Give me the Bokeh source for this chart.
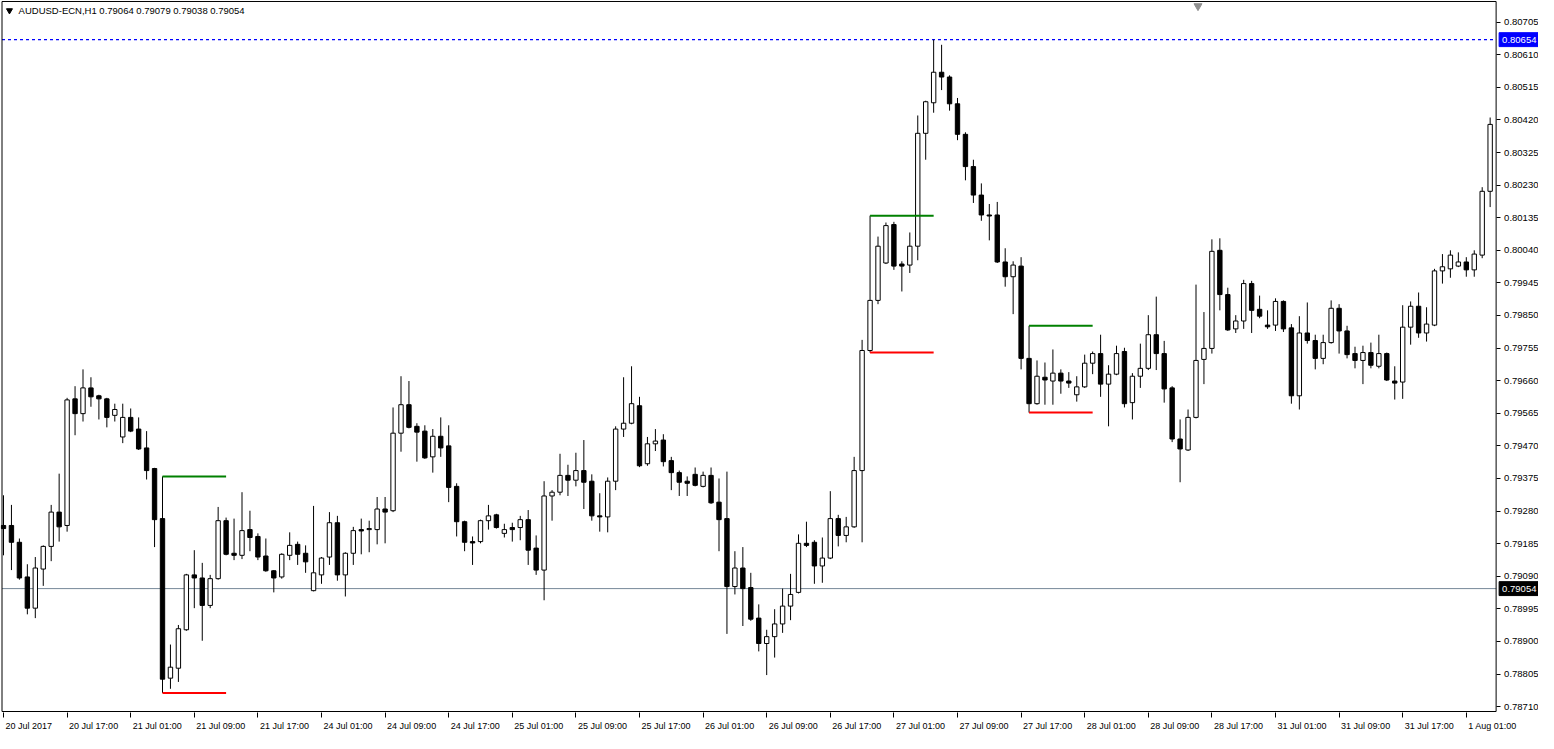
from bokeh.plotting import figure
from bokeh.models import ColumnDataSource, FixedTicker, Label, Range1d, PrintfTickFormatter
from bokeh.core.properties import value
from bokeh.embed import file_html
from bokeh.resources import INLINE

# ---------------- data ----------------
title_text = "AUDUSD-ECN,H1  0.79064 0.79079 0.79038 0.79054"

opens = [0.79238, 0.79238, 0.79189, 0.79088, 0.78997, 0.79111, 0.79177, 0.79277, 0.79238, 0.79607,
         0.79564, 0.79639, 0.79616, 0.79607, 0.79559, 0.79496, 0.79553, 0.79519, 0.79464, 0.79404,
         0.79258, 0.78793, 0.78822, 0.78934, 0.79094, 0.79085, 0.79005, 0.79083, 0.79252, 0.79157,
         0.79151, 0.79226, 0.79206, 0.79149, 0.79106, 0.79088, 0.79151, 0.79183, 0.79157, 0.79048,
         0.79094, 0.79146, 0.79246, 0.79094, 0.79157, 0.79226, 0.79226, 0.79226, 0.79286, 0.79281,
         0.79507, 0.79590, 0.79527, 0.79513, 0.79438, 0.79498, 0.79470, 0.79352, 0.79249, 0.79191,
         0.79191, 0.79252, 0.79269, 0.79215, 0.79232, 0.79232, 0.79255, 0.79172, 0.79108, 0.79324,
         0.79335, 0.79384, 0.79370, 0.79398, 0.79367, 0.79266, 0.79263, 0.79367, 0.79519, 0.79536,
         0.79587, 0.79418, 0.79476, 0.79487, 0.79427, 0.79392, 0.79367, 0.79387, 0.79352, 0.79384,
         0.79306, 0.79258, 0.79060, 0.79114, 0.79057, 0.78968, 0.78894, 0.78914, 0.78951, 0.79003,
         0.79043, 0.79186, 0.79189, 0.79120, 0.79143, 0.79258, 0.79209, 0.79234, 0.79398, 0.79748,
         0.79894, 0.80003, 0.80115, 0.80000, 0.79997, 0.80052, 0.80381, 0.80470, 0.80559, 0.80545,
         0.80467, 0.80378, 0.80284, 0.80201, 0.80143, 0.80143, 0.80006, 0.79963, 0.79994, 0.79725,
         0.79593, 0.79670, 0.79659, 0.79682, 0.79659, 0.79619, 0.79642, 0.79711, 0.79739, 0.79650,
         0.79679, 0.79745, 0.79596, 0.79673, 0.79696, 0.79794, 0.79739, 0.79639, 0.79490, 0.79458,
         0.79553, 0.79722, 0.79754, 0.80040, 0.79911, 0.79811, 0.79834, 0.79943, 0.79868, 0.79822,
         0.79822, 0.79891, 0.79814, 0.79616, 0.79799, 0.79777, 0.79725, 0.79771, 0.79871, 0.79805,
         0.79739, 0.79719, 0.79742, 0.79702, 0.79739, 0.79659, 0.79656, 0.79816, 0.79877, 0.79799,
         0.79822, 0.79980, 0.79986, 0.79994, 0.80006, 0.79983, 0.80026, 0.80212]

highs = [0.79326, 0.79298, 0.79200, 0.79125, 0.79146, 0.79180, 0.79298, 0.79389, 0.79610, 0.79644,
         0.79693, 0.79670, 0.79619, 0.79610, 0.79593, 0.79593, 0.79579, 0.79553, 0.79513, 0.79406,
         0.79381, 0.78891, 0.78948, 0.79097, 0.79166, 0.79129, 0.79094, 0.79292, 0.79261, 0.79258,
         0.79335, 0.79281, 0.79215, 0.79200, 0.79108, 0.79157, 0.79218, 0.79191, 0.79180, 0.79295,
         0.79146, 0.79277, 0.79266, 0.79160, 0.79234, 0.79258, 0.79252, 0.79321, 0.79321, 0.79582,
         0.79673, 0.79659, 0.79536, 0.79530, 0.79519, 0.79553, 0.79530, 0.79361, 0.79252, 0.79206,
         0.79255, 0.79298, 0.79272, 0.79243, 0.79246, 0.79266, 0.79283, 0.79209, 0.79367, 0.79341,
         0.79447, 0.79415, 0.79450, 0.79487, 0.79387, 0.79332, 0.79378, 0.79527, 0.79670, 0.79702,
         0.79613, 0.79496, 0.79519, 0.79504, 0.79438, 0.79398, 0.79381, 0.79407, 0.79395, 0.79407,
         0.79375, 0.79395, 0.79163, 0.79175, 0.79100, 0.79008, 0.78934, 0.78994, 0.79054, 0.79097,
         0.79212, 0.79249, 0.79195, 0.79203, 0.79338, 0.79269, 0.79263, 0.79438, 0.79779, 0.80141,
         0.80080, 0.80121, 0.80123, 0.80008, 0.80092, 0.80433, 0.80476, 0.80654, 0.80639, 0.80550,
         0.80484, 0.80384, 0.80304, 0.80235, 0.80175, 0.80181, 0.80046, 0.80008, 0.80020, 0.79820,
         0.79719, 0.79713, 0.79751, 0.79693, 0.79685, 0.79673, 0.79736, 0.79745, 0.79794, 0.79705,
         0.79762, 0.79756, 0.79682, 0.79768, 0.79851, 0.79905, 0.79776, 0.79644, 0.79547, 0.79576,
         0.79940, 0.79860, 0.80072, 0.80075, 0.79931, 0.79851, 0.79954, 0.79951, 0.79908, 0.79865,
         0.79900, 0.79894, 0.79825, 0.79848, 0.79888, 0.79794, 0.79794, 0.79894, 0.79883, 0.79820,
         0.79759, 0.79762, 0.79771, 0.79794, 0.79742, 0.79702, 0.79880, 0.79891, 0.79917, 0.79874,
         0.79986, 0.80029, 0.80040, 0.80034, 0.80020, 0.80040, 0.80224, 0.80427]

lows = [0.79151, 0.79108, 0.79080, 0.78979, 0.78968, 0.79062, 0.79134, 0.79191, 0.79220, 0.79501,
        0.79541, 0.79584, 0.79547, 0.79524, 0.79541, 0.79478, 0.79510, 0.79458, 0.79372, 0.79175,
        0.78750, 0.78762, 0.78782, 0.78931, 0.78997, 0.78902, 0.78997, 0.79080, 0.79151, 0.79137,
        0.79140, 0.79163, 0.79137, 0.79103, 0.79043, 0.79083, 0.79137, 0.79123, 0.79100, 0.79046,
        0.79068, 0.79123, 0.79077, 0.79031, 0.79123, 0.79154, 0.79160, 0.79183, 0.79186, 0.79277,
        0.79453, 0.79521, 0.79424, 0.79432, 0.79392, 0.79438, 0.79306, 0.79206, 0.79163, 0.79123,
        0.79186, 0.79226, 0.79229, 0.79203, 0.79191, 0.79195, 0.79123, 0.79094, 0.79020, 0.79252,
        0.79326, 0.79324, 0.79352, 0.79286, 0.79252, 0.79220, 0.79218, 0.79341, 0.79496, 0.79533,
        0.79408, 0.79412, 0.79455, 0.79410, 0.79341, 0.79324, 0.79324, 0.79352, 0.79349, 0.79301,
        0.79163, 0.78922, 0.79037, 0.78945, 0.78960, 0.78871, 0.78802, 0.78853, 0.78925, 0.78962,
        0.79040, 0.79175, 0.79068, 0.79071, 0.79140, 0.79177, 0.79189, 0.79231, 0.79189, 0.79742,
        0.79883, 0.80000, 0.79983, 0.79920, 0.79974, 0.80011, 0.80304, 0.80441, 0.80507, 0.80447,
        0.80361, 0.80244, 0.80178, 0.80126, 0.80069, 0.80003, 0.79934, 0.79854, 0.79693, 0.79567,
        0.79590, 0.79590, 0.79590, 0.79622, 0.79639, 0.79599, 0.79639, 0.79679, 0.79613, 0.79527,
        0.79676, 0.79582, 0.79547, 0.79639, 0.79691, 0.79691, 0.79596, 0.79481, 0.79364, 0.79455,
        0.79550, 0.79650, 0.79739, 0.79865, 0.79805, 0.79799, 0.79811, 0.79799, 0.79842, 0.79811,
        0.79805, 0.79802, 0.79593, 0.79576, 0.79768, 0.79693, 0.79708, 0.79768, 0.79739, 0.79725,
        0.79696, 0.79650, 0.79696, 0.79696, 0.79659, 0.79605, 0.79607, 0.79765, 0.79785, 0.79774,
        0.79819, 0.79943, 0.79960, 0.79991, 0.79963, 0.79963, 0.80017, 0.80166]

closes = [0.79229, 0.79189, 0.79085, 0.78997, 0.79114, 0.79177, 0.79277, 0.79234, 0.79604, 0.79564,
          0.79639, 0.79613, 0.79607, 0.79553, 0.79576, 0.79553, 0.79513, 0.79461, 0.79398, 0.79255,
          0.78790, 0.78825, 0.78937, 0.79094, 0.79085, 0.79005, 0.79083, 0.79252, 0.79154, 0.79151,
          0.79223, 0.79203, 0.79146, 0.79106, 0.79085, 0.79154, 0.79180, 0.79154, 0.79132, 0.79100,
          0.79143, 0.79246, 0.79094, 0.79157, 0.79223, 0.79222, 0.79229, 0.79286, 0.79277, 0.79507,
          0.79590, 0.79524, 0.79510, 0.79435, 0.79498, 0.79464, 0.79349, 0.79249, 0.79189, 0.79187,
          0.79252, 0.79266, 0.79232, 0.79226, 0.79226, 0.79255, 0.79166, 0.79108, 0.79324, 0.79335,
          0.79384, 0.79370, 0.79398, 0.79364, 0.79266, 0.79263, 0.79367, 0.79519, 0.79536, 0.79593,
          0.79412, 0.79476, 0.79484, 0.79424, 0.79392, 0.79364, 0.79361, 0.79355, 0.79384, 0.79304,
          0.79255, 0.79060, 0.79114, 0.79054, 0.78965, 0.78894, 0.78914, 0.78951, 0.79003, 0.79037,
          0.79186, 0.79180, 0.79120, 0.79143, 0.79258, 0.79209, 0.79234, 0.79398, 0.79748, 0.79894,
          0.80052, 0.80112, 0.79994, 0.79994, 0.80052, 0.80381, 0.80473, 0.80559, 0.80545, 0.80467,
          0.80378, 0.80284, 0.80201, 0.80143, 0.80140, 0.80006, 0.79963, 0.79997, 0.79725, 0.79593,
          0.79673, 0.79662, 0.79682, 0.79659, 0.79653, 0.79642, 0.79711, 0.79739, 0.79650, 0.79679,
          0.79739, 0.79593, 0.79673, 0.79696, 0.79794, 0.79739, 0.79636, 0.79490, 0.79461, 0.79553,
          0.79719, 0.79754, 0.80037, 0.79911, 0.79808, 0.79834, 0.79943, 0.79865, 0.79848, 0.79817,
          0.79891, 0.79811, 0.79616, 0.79799, 0.79777, 0.79725, 0.79771, 0.79871, 0.79805, 0.79736,
          0.79719, 0.79742, 0.79705, 0.79739, 0.79662, 0.79653, 0.79816, 0.79877, 0.79799, 0.79825,
          0.79980, 0.79992, 0.80026, 0.80006, 0.79983, 0.80029, 0.80212, 0.80407]

time_labels = ["20 Jul 2017", "20 Jul 17:00", "21 Jul 01:00", "21 Jul 09:00", "21 Jul 17:00",
               "24 Jul 01:00", "24 Jul 09:00", "24 Jul 17:00", "25 Jul 01:00", "25 Jul 09:00",
               "25 Jul 17:00", "26 Jul 01:00", "26 Jul 09:00", "26 Jul 17:00", "27 Jul 01:00",
               "27 Jul 09:00", "27 Jul 17:00", "28 Jul 01:00", "28 Jul 09:00", "28 Jul 17:00",
               "31 Jul 01:00", "31 Jul 09:00", "31 Jul 17:00", "1 Aug 01:00"]

price_ticks = [0.78710, 0.78805, 0.78900, 0.78995, 0.79090, 0.79185, 0.79280, 0.79375, 0.79470,
               0.79565, 0.79660, 0.79755, 0.79850, 0.79945, 0.80040, 0.80135, 0.80230, 0.80325,
               0.80420, 0.80515, 0.80610, 0.80705]

high_line_price = 0.80654
bid_price = 0.79054

# news-bar ranges (bar index where the range starts; its high/low are drawn forward)
range_start = [20, 109, 129]
range_bars = 8

# visible price window of the chart box
price_lo, price_hi = 0.786958, 0.807652

# ---------------- geometry ----------------
n = len(opens)
bars = list(range(n))
tick_bars = bars[::8][:len(time_labels)]

W, H = 1538, 733
BOTTOM = 17
PX = 7.95                       # pixels per bar
FRAME_H = H - BOTTOM
X0 = -3 / PX                    # frame left edge (data)
X1 = X0 + W / PX                # frame right edge (data)
box_left = -1.5 / PX            # chart box left edge
box_right = 187.75              # chart box right edge (price scale starts here)
ppx = (price_hi - price_lo) / (FRAME_H - 2)
Y0, Y1 = price_lo - ppx, price_hi + ppx

p = figure(width=W, height=H, output_backend="svg", toolbar_location=None,
           x_range=Range1d(X0, X1), y_range=Range1d(Y0, Y1),
           y_axis_location="right", min_border_left=0, min_border_top=0,
           min_border_right=0, min_border_bottom=BOTTOM)
p.background_fill_color = "white"
p.border_fill_color = "white"
p.outline_line_color = None
p.grid.visible = False

# x axis: minor ticks on the bars, labels starting at each tick
def text_w(s, size=9.0):
    w = 0.0
    for ch in s:
        if ch.isdigit():
            w += 0.556
        elif ch in " :":
            w += 0.278
        elif ch == "l":
            w += 0.222
        elif ch == "A":
            w += 0.667
        elif ch == "J":
            w += 0.5
        else:
            w += 0.556
    return w * size

lbl_pos = [b + (text_w(t) / 2 + 2) / PX for b, t in zip(tick_bars, time_labels)]
xa = p.xaxis[0]
xa.ticker = FixedTicker(ticks=lbl_pos, minor_ticks=tick_bars)
xa.major_label_overrides = {pos: t for pos, t in zip(lbl_pos, time_labels)}
xa.major_tick_out = 0
xa.major_tick_in = 0
xa.minor_tick_out = 5
xa.minor_tick_in = 0
xa.minor_tick_line_color = "black"
xa.minor_tick_line_width = 1
xa.axis_line_color = None
xa.major_label_standoff = 3
xa.major_label_text_font = "Liberation Sans"
xa.major_label_text_font_size = "9px"
xa.major_label_text_color = "black"

# price scale drawn against the chart box's right edge
ya = p.yaxis[0]
ya.fixed_location = box_right
ya.ticker = FixedTicker(ticks=price_ticks)
ya.formatter = PrintfTickFormatter(format="%.5f")
ya.major_tick_out = 4
ya.major_tick_in = 0
ya.minor_tick_out = 0
ya.minor_tick_in = 0
ya.axis_line_color = None
ya.major_label_standoff = 4
ya.major_label_text_font = "Liberation Sans"
ya.major_label_text_font_size = "9.5px"
ya.major_label_text_color = "black"

# bid line and max line, limited to the chart box
p.segment(x0=[box_left], y0=[bid_price], x1=[box_right], y1=[bid_price], line_color="#778899", line_width=1)
p.segment(x0=[box_left], y0=[high_line_price], x1=[box_right], y1=[high_line_price],
          line_color="#0000FF", line_width=1.2, line_dash="3 3")

tops = [max(o, c) for o, c in zip(opens, closes)]
bots = [min(o, c) for o, c in zip(opens, closes)]
fills = ["white" if c >= o else "black" for o, c in zip(opens, closes)]
src = ColumnDataSource(dict(x=bars, h=highs, l=lows, top=tops, bottom=bots, fill=fills))
p.segment(x0="x", y0="h", x1="x", y1="l", line_color="black", line_width=1, source=src)
p.vbar(x="x", width=0.55, top="top", bottom="bottom", fill_color="fill", line_color="black",
       line_width=1, source=src)

r_high = [highs[i] for i in range_start]
r_low = [lows[i] for i in range_start]
r_end = [i + range_bars for i in range_start]
p.segment(x0=range_start, y0=r_high, x1=r_end, y1=r_high, line_color="#008000", line_width=2)
p.segment(x0=range_start, y0=r_low, x1=r_end, y1=r_low, line_color="#FF0000", line_width=2)

# chart box
p.quad(left=[box_left], right=[box_right], bottom=[price_lo], top=[price_hi],
       fill_color=None, line_color="black", line_width=1)

# title and markers
p.scatter(x=[0.75], y=[0.80739], marker="inverted_triangle", size=6, fill_color="black", line_color="black")
p.add_layout(Label(x=1.9, y=0.80739, text=title_text, text_font="Liberation Sans",
                   text_font_size="9.5px", text_color="black", text_baseline="middle"))
p.scatter(x=[150.25], y=[0.80752], marker="inverted_triangle", size=8, fill_color="#909090",
          line_color="#909090")

# price tags on the scale
tag_prices = [high_line_price, bid_price]
tag_colors = ["#0000FF", "black"]
tag_l = box_right + 3 / PX
tag_r = tag_l + 39 / PX
tag_h = 7 * ppx
p.quad(left=[tag_l] * 2, right=[tag_r] * 2, bottom=[t - tag_h for t in tag_prices],
       top=[t + tag_h for t in tag_prices], fill_color=tag_colors, line_color=tag_colors)
p.text(x=[tag_l + 3 / PX] * 2, y=tag_prices, text=["%.5f" % t for t in tag_prices],
       text_font=value("Liberation Sans"), text_font_size=value("9.5px"), text_color="white",
       text_baseline="middle", text_align="left")

open("out.html", "w").write(file_html(p, INLINE))
